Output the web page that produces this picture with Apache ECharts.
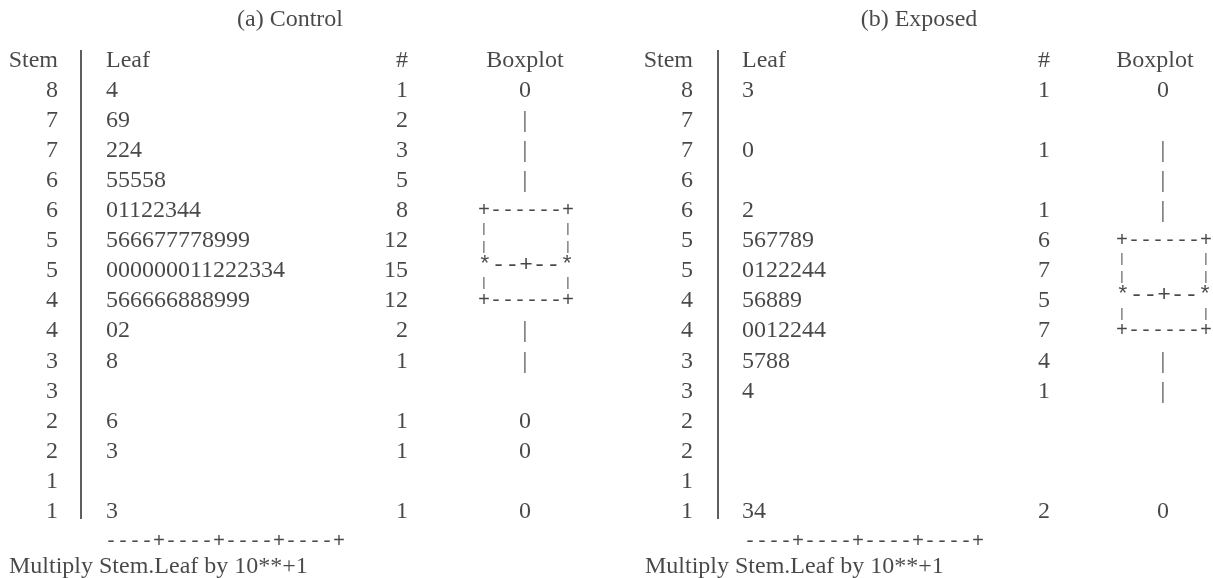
<!DOCTYPE html>
<html><head><meta charset="utf-8">
<script src="https://cdn.jsdelivr.net/npm/echarts@6/dist/echarts.min.js"></script>
<style>html,body{margin:0;padding:0;background:#fff}#c{width:1213px;height:578px}</style>
</head><body><div id="c"></div>
<script>
// ---------------- data ----------------
const panelTitles = ['(a) Control', '(b) Exposed'];
const headerLabels = ['Stem', 'Leaf', '#', 'Boxplot'];
const footerAxis = '----+----+----+----+';
const footerNote = 'Multiply Stem.Leaf by 10**+1';

const controlStems  = ['8','7','7','6','6','5','5','4','4','3','3','2','2','1','1'];
const controlLeaves = ['4','69','224','55558','01122344','566677778999','000000011222334','566666888999','02','8','','6','3','','3'];
const controlCounts = ['1','2','3','5','8','12','15','12','2','1','','1','1','','1'];
const controlBoxCol = ['0','|','|','|','','','','','|','|','','0','0','','0'];
const controlBoxRows = [4, 7];   // box top row, box bottom row

const exposedStems  = ['8','7','7','6','6','5','5','4','4','3','3','2','2','1','1'];
const exposedLeaves = ['3','','0','','2','567789','0122244','56889','0012244','5788','4','','','','34'];
const exposedCounts = ['1','','1','','1','6','7','5','7','4','1','','','','2'];
const exposedBoxCol = ['0','','|','|','|','','','','','|','|','','','','0'];
const exposedBoxRows = [5, 8];

const boxLines = ['+------+', '|      |', '|      |', '*--+--*', '|      |', '+------+'];

// ---------------- layout / style ----------------
const INK = '#1c1a1a';
const SERIF = '"Liberation Serif", "DejaVu Serif", serif';
const MONO = '"Liberation Mono", "DejaVu Sans Mono", monospace';
const FS = 24;

const layout = [
  {left: 0,   width: 600, xMin: -81, xMax: 519, titleX: 209, stemX: -23, leafX: 25, countX: 327, hashX: 321, boxHeadX: 444, boxX: 444, footX: 24, noteX: -72},
  {left: 637, width: 576, xMin: -81, xMax: 495, titleX: 201, stemX: -25, leafX: 24, countX: 332, hashX: 326, boxHeadX: 437, boxX: 445, footX: 26, noteX: -73}
];

const panels = [
  {title: panelTitles[0], stems: controlStems, leaves: controlLeaves, counts: controlCounts, boxCol: controlBoxCol, boxRows: controlBoxRows},
  {title: panelTitles[1], stems: exposedStems, leaves: exposedLeaves, counts: exposedCounts, boxCol: exposedBoxCol, boxRows: exposedBoxRows}
];

function textSeries(p, pts, align, extraLabel) {
  return {
    type: 'scatter', xAxisIndex: p, yAxisIndex: p, symbolSize: 1, silent: true, animation: false,
    itemStyle: {color: 'rgba(0,0,0,0)'},
    data: pts.filter(d => (Array.isArray(d) ? d[2] : d.value[2]) !== ''),
    label: Object.assign({
      show: true, position: 'inside', align: align, verticalAlign: 'middle',
      formatter: prm => prm.value[2], color: INK, fontFamily: SERIF, fontSize: FS
    }, extraLabel || {})
  };
}

const grids = [], xAxes = [], yAxes = [], series = [];
panels.forEach((pd, p) => {
  const L = layout[p];
  const n = pd.stems.length;
  grids.push({left: L.left, top: 0, width: L.width, height: 578});
  xAxes.push({type: 'value', gridIndex: p, min: L.xMin, max: L.xMax, show: false});
  yAxes.push({type: 'value', gridIndex: p, min: -3, max: 16.2, inverse: true, show: false});

  // title
  series.push(textSeries(p, [[L.titleX, -2.34, pd.title]], 'center'));
  // header
  series.push(textSeries(p, [[L.stemX, -1, headerLabels[0]]], 'right'));
  series.push(textSeries(p, [[L.leafX, -1, headerLabels[1]]], 'left'));
  series.push(textSeries(p, [[L.hashX, -1, headerLabels[2]]], 'center'));
  series.push(textSeries(p, [[L.boxHeadX, -1, headerLabels[3]]], 'center'));
  // columns
  series.push(textSeries(p, pd.stems.map((s, i) => [L.stemX, i, s]), 'right'));
  series.push(textSeries(p, pd.leaves.map((s, i) => [L.leafX, i, s]), 'left'));
  series.push(textSeries(p, pd.counts.map((s, i) => [L.countX, i, s]), 'right'));
  series.push(textSeries(p, pd.boxCol.map((s, i) => [L.boxX, i, s]), 'center'));

  // ascii box, lines spread evenly from top row to bottom row
  const [r0, r1] = pd.boxRows;
  const step = (r1 - r0) / (boxLines.length - 1);
  const boxPts = boxLines.map((t, k) => {
    const item = {value: [L.boxX + 1, r0 + k * step, t]};
    if (t.indexOf('*') >= 0) item.label = {fontSize: 22.8};
    return item;
  });
  series.push(textSeries(p, boxPts, 'center', {
    fontFamily: MONO, fontSize: 20,
    formatter: prm => {
      const t = prm.value[2];
      return /^\|\s+\|$/.test(t) ? '{bar||}{gap| }{bar||}' : t;
    },
    rich: {
      bar: {fontFamily: MONO, fontSize: 13, width: 12, align: 'center', color: INK},
      gap: {fontFamily: MONO, fontSize: 13, width: 72}
    }
  }));

  // separator line
  series.push({
    type: 'line', xAxisIndex: p, yAxisIndex: p, silent: true, animation: false,
    symbol: 'none', lineStyle: {color: INK, width: 1.4},
    data: [[0, -1.34], [0, n - 1 + 0.24]]
  });

  // footer
  series.push(textSeries(p, [[L.footX, n, footerAxis]], 'left', {fontFamily: MONO, fontSize: 20}));
  series.push(textSeries(p, [[L.noteX, n + 0.84, footerNote]], 'left'));
});

const chart = echarts.init(document.getElementById('c'), null, {renderer: 'canvas'});
chart.setOption({
  backgroundColor: '#fff',
  animation: false,
  grid: grids, xAxis: xAxes, yAxis: yAxes,
  tooltip: {show: false},
  series: series
});
</script></body></html>
